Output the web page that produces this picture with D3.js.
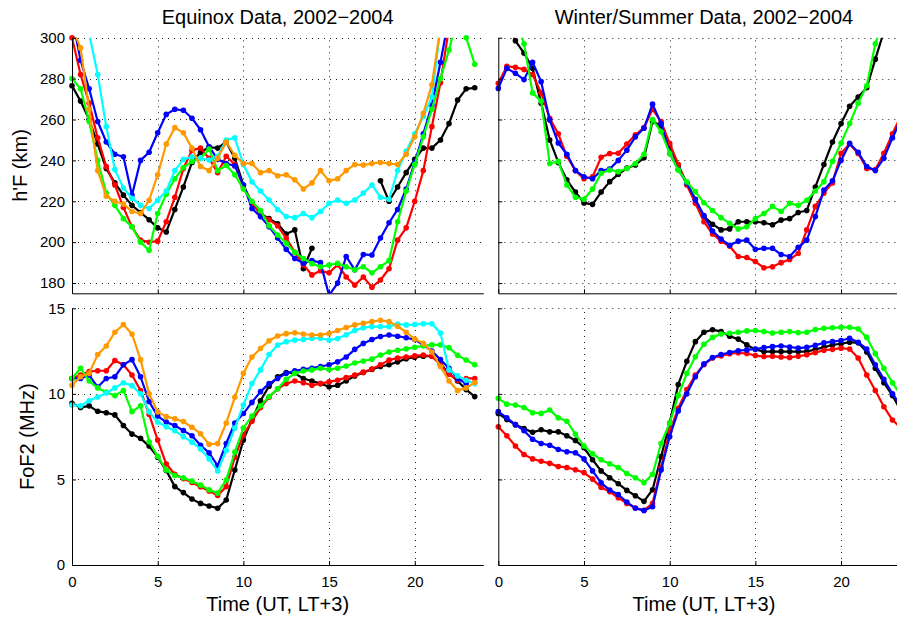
<!DOCTYPE html>
<html>
<head>
<meta charset="utf-8">
<script src="https://cdn.jsdelivr.net/npm/d3@7/dist/d3.min.js"></script>
<style>
  body { margin: 0; background: #fff; }
  svg text { font-family: "Liberation Sans", Arial, Helvetica, sans-serif; fill: #000; }
</style>
</head>
<body>
<svg id="chart" width="897" height="619"></svg>
<script>
// Half-hourly local sampling, UT hours
const hours = d3.range(0, 24, 0.5);

const titles = ["Equinox Data, 2002\u22122004", "Winter/Summer Data, 2002\u22122004"];
const xLabel = "Time (UT, LT+3)";
const hfLabel = "h'F (km)";
const foLabel = "FoF2 (MHz)";
const xTicks = [0, 5, 10, 15, 20];
const hfTicks = [180, 200, 220, 240, 260, 280, 300];
const foTicks = [0, 5, 10, 15];

// h'F (km), equinox
const hfEqBlack  = [276.5, 269, 260, 248, 236, 229, 223, 218, 214.5, 211, 207, 205, 216, 227, 239, 244, 246.5, 246, 249, 241, 228, 219, 214, 211.5, 209, 204, 206, 187, 197, null, null, null, null, null, null, null, 230, 220, 227, 234, 240.5, 246, 246, 250, 258, 269.5, 275, 275.5];
const hfEqRed    = [300, 282, 268, 251, 237, 228, 217, 207.5, 201, 200, 200.5, 210, 222, 236, 245, 246, 241, 234, 242, 238, 227, 219, 214, 211, 208, 202, 195, 189, 184, 186, 185, 189, 183, 179, 183, 178, 181.5, 187, 201, 207, 220, 235, 256.5, 278, 305, 320, 330, 330];
const hfEqBlue   = [310, 289, 275, 259, 249, 243, 241.8, 223, 240, 244, 253.5, 262.5, 265, 264.5, 260.6, 255, 246.7, 240.5, 238.5, 237.3, 228, 216.5, 212.5, 207.6, 202, 196.5, 192, 189.7, 191, 190, 174, 180, 193, 186.5, 194, 193.7, 202, 209.5, 216, 226, 239, 253, 267, 288, 310, 320, 330, 330];
const hfEqGreen  = [280, 275, 259, 240, 224, 218, 211.5, 207.5, 200, 196, 214, 223.5, 231, 236.5, 239.5, 241, 245.5, 235, 237.5, 233, 226, 220, 215.5, 208, 203.5, 199.5, 195, 192, 189.5, 188, 188.8, 189.7, 188, 186.5, 188, 185, 188, 191, 210, 225, 238, 251.5, 265, 280, 294, 310, 300, 287];
const hfEqCyan   = [330, 320, 302, 282, 256.5, 235.5, 226.5, 221.5, 218, 216.5, 220.5, 225, 235, 240.5, 241.8, 241, 240.2, 242, 250, 251, 238, 229.5, 225, 220.6, 216, 212.5, 212, 214, 212, 215, 219, 220.6, 219, 220.6, 224, 228, 222, 221, 235, 244.5, 253, 261.4, 271, 305, 320, 330, 330, 330];
const hfEqOrange = [305, 295, 265, 235, 222.5, 220, 218.7, 215, 214, 220.5, 233, 248, 256, 253.5, 246, 237, 235, 241, 249, 242.5, 238.5, 238.5, 234, 235, 232.5, 233, 230.5, 226, 229, 235, 230, 231, 235, 238, 237.7, 238.5, 239, 238.5, 238, 243, 251.5, 263, 277, 305, 320, 330, 330, 330];

// h'F (km), winter/summer
const hfWsBlack = [320, 310, 298.5, 292.5, 285, 268, 250, 239, 230.5, 224.5, 219.2, 218.5, 224.5, 229.6, 233.2, 236.2, 237.8, 241.3, 259, 257, 247, 237.5, 228.8, 221, 212.5, 208.8, 206, 206.5, 210, 210, 210, 209.5, 208.5, 210.8, 211.5, 214.5, 215.5, 227, 238, 249, 258, 266.5, 271, 275.5, 289.5, 303, 315, 325];
const hfWsRed   = [277.7, 286, 285.5, 284.5, 282, 273, 260.6, 253, 242, 235, 231, 232, 241.5, 243.4, 243.5, 248, 252.5, 256, 265, 259, 248.3, 238, 228, 219, 210, 204, 200.5, 198, 193, 192.5, 190.5, 187.5, 188, 190, 191.5, 194.5, 206, 217.5, 224, 229, 243.5, 248, 243.4, 236, 235.5, 243.5, 253, 262];
const hfWsBlue  = [275.2, 285, 282.6, 279.5, 288, 278.5, 259.7, 248.5, 243, 235, 232, 231, 235, 235.8, 240, 245, 251.5, 255.7, 267.5, 258, 243.4, 235.5, 229, 220.6, 213, 205.5, 201.5, 198.5, 200.5, 201, 196.5, 197, 197, 194, 193, 197.5, 201, 212.5, 225.5, 230, 240, 248.3, 244, 237, 235, 241, 251, 260];
const hfWsGreen = [330, 320, 310, 297, 273, 269, 238.5, 239.5, 228, 222, 221, 226, 233.7, 235.3, 234.5, 236, 238.5, 243, 260, 254, 243.4, 235.3, 229.5, 224.7, 219.3, 215.5, 212, 209.2, 206.5, 207.5, 211.5, 214, 217.5, 215, 219, 218, 220.5, 225, 229.6, 239.5, 248.5, 258, 268, 276.5, 297, 310, 320, 330];

// FoF2 (MHz), equinox
const foEqBlack  = [9.45, 9.2, 9.3, 8.98, 8.9, 8.77, 8.15, 7.65, 7.4, 6.95, 6.3, 5.52, 4.58, 4.23, 3.85, 3.6, 3.45, 3.32, 3.8, 5.55, 7.3, 8.5, 9.6, 10.45, 11.0, 11.25, 11.2, 10.9, 10.75, 10.6, 10.42, 10.5, 10.75, 11.05, 11.25, 11.43, 11.6, 11.7, 11.87, 12.05, 12.14, 12.2, 12.2, 11.75, 11.2, 10.75, 10.25, 9.84];
const foEqRed    = [10.9, 11.1, 11.3, 11.35, 11.35, 11.95, 11.7, 11.1, 10.2, 8.8, 7.3, 5.9, 5.3, 5.05, 4.82, 4.57, 4.33, 4.06, 4.58, 6.3, 7.6, 8.4, 9.2, 9.8, 10.3, 10.6, 10.75, 10.65, 10.5, 10.6, 10.7, 10.8, 10.95, 11.1, 11.27, 11.45, 11.7, 11.97, 12.1, 12.15, 12.22, 12.27, 12.2, 11.7, 11.15, 10.8, 10.9, 10.9];
const foEqBlue   = [10.9, 10.9, 11.1, 10.4, 10.9, 11.0, 11.7, 12.0, 11.0, 9.55, 8.7, 8.35, 8.15, 7.85, 7.55, 7.0, 6.55, 5.8, 7.1, 8.3, 8.85, 9.5, 10.13, 10.6, 10.9, 11.2, 11.35, 11.43, 11.5, 11.6, 11.7, 11.87, 12.15, 12.6, 12.95, 13.18, 13.35, 13.44, 13.37, 13.28, 13.17, 12.86, 12.5, 12.0, 11.5, 10.9, 10.6, null];
const foEqGreen  = [10.9, 11.5, 10.75, 10.35, 10.1, 9.9, 10.2, 8.96, 9.3, 7.2, 6.35, 5.55, 5.23, 5.1, 4.9, 4.67, 4.4, 4.2, 4.97, 6.6, 8.0, 8.7, 9.3, 9.85, 10.3, 10.85, 11.2, 11.33, 11.4, 11.5, 11.42, 11.5, 11.63, 11.8, 11.92, 12.03, 12.27, 12.45, 12.55, 12.63, 12.72, 12.8, 12.86, 12.86, 12.7, 12.25, 11.98, 11.7];
const foEqCyan   = [9.35, 9.3, 9.6, 9.82, 10.05, 10.35, 10.65, 10.48, 10.0, 8.95, 8.35, 8.08, 7.85, 7.5, 7.18, 6.78, 6.2, 5.5, 6.7, 8.0, 9.35, 10.6, 11.4, 12.3, 12.85, 13.05, 13.15, 13.17, 13.25, 13.25, 13.15, 13.23, 13.45, 13.7, 13.87, 13.93, 13.93, 13.93, 14.08, 14.03, 14.05, 14.1, 14.1, 13.55, 11.4, 11.05, 10.8, 10.6];
const foEqOrange = [10.5, 11.0, 11.2, 12.3, 12.8, 13.6, 14.05, 13.5, 12.0, 10.0, 8.95, 8.67, 8.55, 8.38, 8.05, 7.67, 7.05, 7.1, 8.3, 9.8, 11.2, 12.15, 12.65, 13.1, 13.38, 13.52, 13.57, 13.5, 13.44, 13.44, 13.53, 13.7, 13.88, 14.03, 14.13, 14.22, 14.3, 14.22, 13.95, 13.6, 13.2, 12.95, 12.45, 11.6, 10.75, 10.2, 10.35, 10.66];

// FoF2 (MHz), winter/summer
const foWsBlack = [8.86, 8.5, 8.2, 7.97, 7.75, 7.9, 7.78, 7.78, 7.55, 7.28, 6.85, 6.15, 5.5, 5.1, 4.75, 4.36, 4.05, 3.72, 4.4, 6.33, 8.3, 10.55, 11.9, 13.05, 13.6, 13.75, 13.64, 13.37, 13.2, 12.86, 12.6, 12.47, 12.47, 12.47, 12.47, 12.47, 12.47, 12.6, 12.72, 12.86, 12.93, 13.02, 12.98, 12.45, 11.5, 10.65, 9.9, 9.0];
const foWsRed   = [8.08, 7.55, 6.95, 6.46, 6.2, 6.06, 5.94, 5.75, 5.7, 5.57, 5.4, 5.02, 4.53, 4.29, 3.93, 3.6, 3.33, 3.2, 3.6, 5.7, 7.8, 9.16, 10.25, 11.1, 11.7, 12.1, 12.22, 12.35, 12.4, 12.36, 12.24, 12.18, 12.2, 12.15, 12.13, 12.2, 12.28, 12.41, 12.55, 12.6, 12.67, 12.62, 12.1, 11.1, 10.2, 9.25, 8.47, 8.0];
const foWsBlue  = [8.96, 8.6, 8.2, 7.85, 7.35, 7.1, 7.0, 6.75, 6.62, 6.56, 6.2, 5.5, 4.8, 4.38, 4.12, 3.68, 3.32, 3.18, 3.4, 5.55, 7.5, 9.0, 10.0, 11.0, 11.75, 12.12, 12.3, 12.42, 12.52, 12.57, 12.62, 12.7, 12.76, 12.8, 12.74, 12.67, 12.72, 12.84, 12.98, 13.05, 13.12, 13.25, 13.02, 12.62, 11.7, 10.85, 10.0, 9.3];
const foWsGreen = [9.74, 9.4, 9.35, 9.2, 8.9, 8.86, 9.06, 8.6, 8.4, 7.65, 6.95, 6.5, 6.15, 5.92, 5.7, 5.35, 5.1, 4.8, 5.3, 7.1, 8.3, 9.9, 11.2, 12.17, 12.9, 13.3, 13.5, 13.54, 13.6, 13.68, 13.7, 13.64, 13.56, 13.6, 13.64, 13.58, 13.6, 13.76, 13.83, 13.86, 13.89, 13.89, 13.8, 13.3, 12.35, 11.5, 10.65, 9.9];

const colors = { black: "#000000", red: "#ff0000", blue: "#0000ff", green: "#00ff00", cyan: "#00ffff", orange: "#ff9900" };

const svg = d3.select("#chart");

// Panel frames: two columns (equinox, winter/summer), two rows (h'F, FoF2)
const colX = [[72, 483.3], [498.3, 909.6]];
const rowY = [[293.3, 37.7], [565, 308.3]];

const panels = [
  { col: 0, row: 0, domain: [175, 300], ticks: hfTicks, yLabels: true, xLabels: false,
    series: [[hfEqBlack, "black"], [hfEqRed, "red"], [hfEqBlue, "blue"], [hfEqGreen, "green"], [hfEqCyan, "cyan"], [hfEqOrange, "orange"]] },
  { col: 1, row: 0, domain: [175, 300], ticks: hfTicks, yLabels: false, xLabels: false,
    series: [[hfWsBlack, "black"], [hfWsRed, "red"], [hfWsBlue, "blue"], [hfWsGreen, "green"]] },
  { col: 0, row: 1, domain: [0, 15], ticks: foTicks, yLabels: true, xLabels: true,
    series: [[foEqBlack, "black"], [foEqRed, "red"], [foEqBlue, "blue"], [foEqGreen, "green"], [foEqCyan, "cyan"], [foEqOrange, "orange"]] },
  { col: 1, row: 1, domain: [0, 15], ticks: foTicks, yLabels: false, xLabels: true,
    series: [[foWsBlack, "black"], [foWsRed, "red"], [foWsBlue, "blue"], [foWsGreen, "green"]] }
];

panels.forEach((p, i) => {
  const x = d3.scaleLinear().domain([0, 24]).range(colX[p.col]);
  const y = d3.scaleLinear().domain(p.domain).range(rowY[p.row]);
  const [xa, xb] = x.range();
  const [yb, ya] = y.range();
  const g = svg.append("g");

  // dotted grid
  const grid = g.append("g").attr("stroke", "#222").attr("stroke-width", 1)
    .attr("stroke-dasharray", "1,5");
  grid.selectAll("line.h").data(p.ticks.filter(v => v > p.domain[0])).join("line")
    .attr("x1", xa).attr("x2", xb).attr("y1", d => Math.round(y(d)) + 0.5).attr("y2", d => Math.round(y(d)) + 0.5);
  grid.selectAll("line.v").data(xTicks.filter(v => v > 0)).join("line")
    .attr("y1", yb).attr("y2", ya).attr("x1", d => Math.round(x(d)) + 0.5).attr("x2", d => Math.round(x(d)) + 0.5);

  // data lines clipped to the plot box
  const clipId = "clip" + i;
  svg.append("clipPath").attr("id", clipId).append("rect")
    .attr("x", xa).attr("y", ya).attr("width", xb - xa).attr("height", yb - ya);

  const line = d3.line()
    .defined(d => d[1] != null)
    .x(d => x(d[0])).y(d => y(d[1]));

  p.series.forEach(([vals, c]) => {
    const pts = hours.map((h, k) => [h, vals[k]]);
    g.append("path").attr("clip-path", `url(#${clipId})`)
      .attr("d", line(pts)).attr("fill", "none")
      .attr("stroke", colors[c]).attr("stroke-width", 2.2).attr("stroke-linejoin", "round");
    g.append("g").selectAll("circle")
      .data(pts.filter(d => d[1] != null && d[1] >= p.domain[0] && d[1] <= p.domain[1]))
      .join("circle")
      .attr("cx", d => x(d[0])).attr("cy", d => y(d[1])).attr("r", 2.8)
      .attr("fill", colors[c]);
  });

  // axes (box off, inward ticks)
  const yAxis = d3.axisLeft(y).tickValues(p.ticks).tickSize(-4).tickSizeOuter(0).tickPadding(7)
    .tickFormat(p.yLabels ? d3.format("d") : () => "");
  const xAxis = d3.axisBottom(x).tickValues(xTicks).tickSize(-4).tickSizeOuter(0).tickPadding(11)
    .tickFormat(p.xLabels ? d3.format("d") : () => "");

  const ya_g = g.append("g").attr("transform", `translate(${xa},0)`).call(yAxis);
  const xa_g = g.append("g").attr("transform", `translate(0,${yb})`).call(xAxis);
  [ya_g, xa_g].forEach(a => {
    a.attr("font-family", null).attr("font-size", null);
    a.selectAll("text").style("font-size", "15px");
    a.selectAll("path, line").attr("stroke", "#000");
  });
});

// titles
svg.selectAll("text.title").data(titles).join("text")
  .attr("class", "title")
  .attr("x", (d, i) => (colX[i][0] + colX[i][1]) / 2).attr("y", 24)
  .attr("text-anchor", "middle").style("font-size", "20px").text(d => d);

// x labels
svg.selectAll("text.xlab").data([0, 1]).join("text")
  .attr("class", "xlab")
  .attr("x", i => (colX[i][0] + colX[i][1]) / 2).attr("y", 610.5)
  .attr("text-anchor", "middle").style("font-size", "20px").text(xLabel);

// y labels
svg.append("text").attr("transform", `translate(27,${(rowY[0][0] + rowY[0][1]) / 2}) rotate(-90)`)
  .attr("text-anchor", "middle").style("font-size", "20px").text(hfLabel);
svg.append("text").attr("transform", `translate(34,${(rowY[1][0] + rowY[1][1]) / 2}) rotate(-90)`)
  .attr("text-anchor", "middle").style("font-size", "20px").text(foLabel);
</script>
</body>
</html>
